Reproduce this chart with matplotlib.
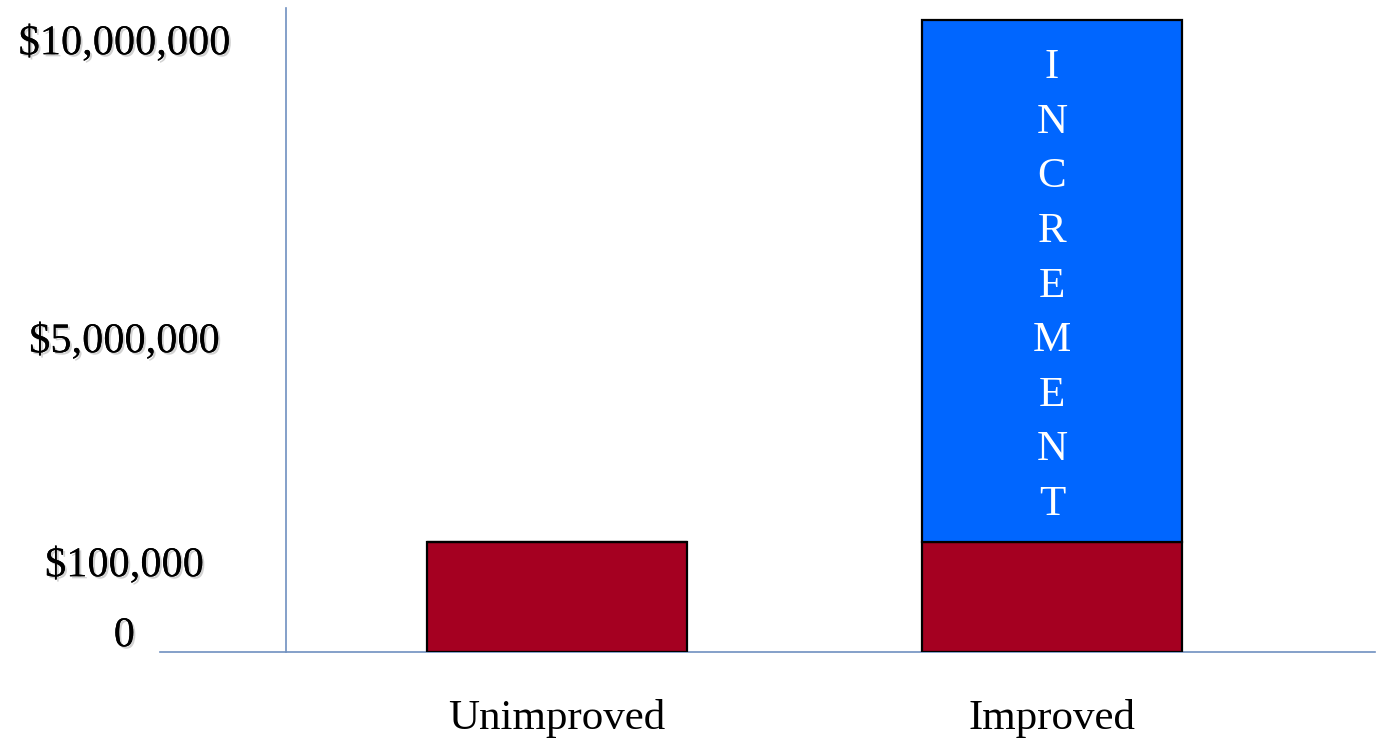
import matplotlib
matplotlib.use('Agg')
import numpy as np
import matplotlib.pyplot as plt
import matplotlib.patheffects as pe
from matplotlib.transforms import ScaledTranslation

# values for the two properties
categories = ['Unimproved', 'Improved']
land_value = [100_000, 100_000]
increment = [0, 9_900_000]
tick_values = [0, 100_000, 5_000_000, 10_000_000]
tick_labels = ['0', '$100,000', '$5,000,000', '$10,000,000']
word = 'INCREMENT'

RED = '#A50021'
BLUE = '#0066FF'
AXIS = '#7090C0'

plt.rcParams['font.family'] = ['Liberation Serif', 'DejaVu Serif']

# the dollar axis is not linear: small values get stretched
_v = [0, 100_000, 5_000_000, 10_000_000, 12_000_000]
_h = [0, 110, 334, 632, 751.2]

def forward(v):
    return np.interp(v, _v, _h)

def inverse(h):
    return np.interp(h, _h, _v)

fig = plt.figure(figsize=(13.84, 7.44), dpi=100)
ax = fig.add_axes([160 / 1384, 92 / 744, 1215 / 1384, 644 / 744])
ax.set_yscale('function', functions=(forward, inverse))

x = np.arange(len(categories))
ax.bar(x, land_value, width=0.527, color=RED, edgecolor='black', linewidth=1.6, zorder=3)
ax.bar(x, increment, width=0.527, bottom=land_value, color=BLUE, edgecolor='black',
       linewidth=1.6, zorder=3)

ax.set_xlim(-0.802, 1.6525)
ax.set_ylim(0, inverse(644))

# letters of the word stacked down the blue bar
top = land_value[1] + increment[1]
for i, ch in enumerate(word):
    ax.annotate(ch, xy=(x[1], top), xytext=(0, -(48 + i * 54.6) * 0.72),
                textcoords='offset points', ha='center', va='center',
                color='white', fontsize=31, zorder=4)

for side in ['top', 'right']:
    ax.spines[side].set_visible(False)
ax.spines['left'].set_position(('data', -0.547))
for side in ['left', 'bottom']:
    ax.spines[side].set_color(AXIS)
    ax.spines[side].set_linewidth(1.2)

ax.set_xticks(x)
ax.set_xticklabels(categories, fontsize=31)
ax.tick_params(axis='x', length=0, pad=34)

ax.set_yticks(tick_values)
ax.set_yticklabels(tick_labels, fontsize=30.5, ha='center', va='center')
ax.tick_params(axis='y', length=0, pad=116.6)
shadow = [pe.withSimplePatchShadow(offset=(1.5, -1.5), shadow_rgbFace='gray', alpha=0.35),
          pe.Normal()]
offsets = [16, -24, -24, -24]
for lab, off in zip(ax.get_yticklabels(), offsets):
    lab.set_path_effects(shadow)
    lab.set_transform(lab.get_transform() + ScaledTranslation(0, off / 100, fig.dpi_scale_trans))

fig.savefig('out.png', dpi=100)
